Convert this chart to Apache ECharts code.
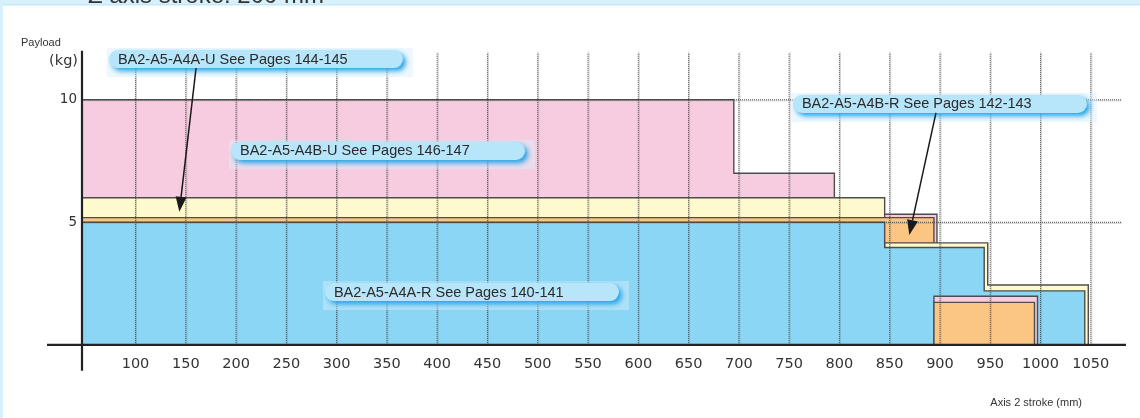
<!DOCTYPE html>
<html>
<head>
<meta charset="utf-8">
<script src="https://cdn.jsdelivr.net/npm/echarts@6/dist/echarts.min.js"></script>
<style>
  html, body { margin: 0; padding: 0; background: #fff; }
  #chart { width: 1140px; height: 418px; }
</style>
</head>
<body>
<div id="chart"></div>
<script>
// Payload envelopes, one step per entry: [stroke from (mm), stroke to (mm), payload (kg)]
const a4bU = [[46.8, 695, 10], [695, 795, 7], [795, 897, 5.33], [894, 997, 1.98]];
const a4aU = [[46.8, 845, 6], [845, 947.5, 4.16], [947.5, 1047.5, 2.44]];
const a4bR = [[46.8, 894, 5.19], [894, 994, 1.73]];
const a4aR = [[46.8, 845, 5], [845, 944, 3.97], [944, 1044, 2.2]];

// Axis ticks
const strokeTicks = [100, 150, 200, 250, 300, 350, 400, 450, 500, 550, 600, 650, 700, 750, 800, 850, 900, 950, 1000, 1050];
const payloadTicks = [5, 10];

// Callout boxes: anchor [stroke, payload] of the top-left corner, and text
const calloutAnchors = [[73.6, 12.03], [753.8, 10.2], [195, 8.28], [288.4, 2.52]];
const calloutTexts = [
  'BA2-A5-A4A-U See Pages 144-145',
  'BA2-A5-A4B-R See Pages 142-143',
  'BA2-A5-A4B-U See Pages 146-147',
  'BA2-A5-A4A-R See Pages 140-141'
];
// Pointer arrows: [from stroke, from payload, to stroke, to payload]
const arrows = [[160.2, 11.29, 143.6, 5.43], [896, 9.47, 869.5, 4.48]];

const X_MIN = 46.8, X_MAX = 1085, Y_MAX = 12;
const PINK = '#f8cce0', YELLOW = '#fffacd', ORANGE = '#fbc684', BLUE = '#8bd6f5';
const EDGE = '#4d4d4d';

// Layer order of the step areas (later pieces paint over earlier ones)
const pieces = [
  { steps: a4bU.slice(0, 3), color: PINK },
  { steps: a4aU.slice(0, 1), color: YELLOW },
  { steps: a4bR.slice(0, 1), color: ORANGE },
  { steps: a4aU.slice(1, 3), color: YELLOW },
  { steps: a4aR, color: BLUE },
  { steps: a4bU.slice(3, 4), color: PINK },
  { steps: a4bR.slice(1, 2), color: ORANGE }
];

function areaSeries(piece, idx) {
  return {
    type: 'custom',
    name: 'area' + idx,
    z: 2,
    silent: true,
    data: piece.steps,
    renderItem: function (params, api) {
      if (params.dataIndex !== 0) return null;
      const s = piece.steps;
      const pts = [api.coord([s[0][0], 0])];
      s.forEach(function (seg) {
        pts.push(api.coord([seg[0], seg[2]]));
        pts.push(api.coord([seg[1], seg[2]]));
      });
      pts.push(api.coord([s[s.length - 1][1], 0]));
      return {
        type: 'polygon',
        shape: { points: pts },
        style: { fill: piece.color, stroke: EDGE, lineWidth: 1.4, lineJoin: 'miter' }
      };
    }
  };
}

const series = pieces.map(areaSeries);

// Dotted grid lines painted above the areas
series.push({
  type: 'custom',
  name: 'vgrid',
  z: 3,
  silent: true,
  data: strokeTicks.map(function (v) { return [v, 0]; }),
  renderItem: function (params, api) {
    const v = api.value(0);
    const p0 = api.coord([v, 0]);
    const p1 = api.coord([v, 11.93]);
    return {
      type: 'group',
      children: [
        { type: 'line', shape: { x1: p0[0] + 1, y1: p0[1], x2: p1[0] + 1, y2: p1[1] },
          style: { stroke: 'rgba(120,120,120,0.35)', lineWidth: 1 } },
        { type: 'line', shape: { x1: p0[0], y1: p0[1], x2: p1[0], y2: p1[1] },
          style: { stroke: '#444', lineWidth: 1, lineDash: [1, 1] } }
      ]
    };
  }
});
series.push({
  type: 'custom',
  name: 'hgrid',
  z: 3,
  silent: true,
  data: payloadTicks.map(function (v) { return [X_MIN, v]; }),
  renderItem: function (params, api) {
    const v = api.value(1);
    const p0 = api.coord([X_MIN, v]);
    const p1 = api.coord([1081, v]);
    return {
      type: 'group',
      children: [
        { type: 'line', shape: { x1: p0[0], y1: p0[1] + 1, x2: p1[0], y2: p1[1] + 1 },
          style: { stroke: 'rgba(120,120,120,0.35)', lineWidth: 1 } },
        { type: 'line', shape: { x1: p0[0], y1: p0[1], x2: p1[0], y2: p1[1] },
          style: { stroke: '#444', lineWidth: 1, lineDash: [1, 1] } }
      ]
    };
  }
});

// Heavy axis lines crossing at the origin with small overhangs
series.push({
  type: 'custom',
  name: 'axes',
  z: 4,
  silent: true,
  data: [[X_MIN, 0]],
  renderItem: function (params, api) {
    const o = api.coord([X_MIN, 0]);
    const xe = api.coord([X_MAX, 0]);
    const yt = api.coord([X_MIN, Y_MAX]);
    return {
      type: 'group',
      children: [
        { type: 'line', shape: { x1: o[0] - 35, y1: o[1], x2: xe[0], y2: o[1] },
          style: { stroke: '#222', lineWidth: 2.2 } },
        { type: 'line', shape: { x1: o[0], y1: yt[1], x2: o[0], y2: o[1] + 26 },
          style: { stroke: '#222', lineWidth: 2.2 } }
      ]
    };
  }
});

// Callout pills
series.push({
  type: 'custom',
  name: 'callouts',
  z: 5,
  silent: true,
  data: calloutAnchors,
  renderItem: function (params, api) {
    const p = api.coord([api.value(0), api.value(1)]);
    const w = 294, h = 18;
    return {
      type: 'group',
      children: [
        { type: 'rect', shape: { x: p[0] - 2, y: p[1] - 2, width: w + 12, height: h + 11 },
          style: { fill: 'rgba(215,240,252,0.45)' } },
        { type: 'rect', shape: { x: p[0], y: p[1], width: w, height: h, r: 9 },
          style: { fill: '#b7e5f9', shadowColor: 'rgba(25,160,230,0.95)', shadowBlur: 5,
                   shadowOffsetX: 3, shadowOffsetY: 3 } },
        { type: 'text',
          style: { text: calloutTexts[params.dataIndex], x: p[0] + 9, y: p[1] + h / 2 + 0.5,
                   fill: '#2b2b2b', font: '14.5px "Liberation Sans", Arial, sans-serif',
                   align: 'left', verticalAlign: 'middle' } }
      ]
    };
  }
});

// Arrows pointing from callouts to their areas
series.push({
  type: 'custom',
  name: 'arrows',
  z: 6,
  silent: true,
  data: arrows,
  renderItem: function (params, api) {
    const a = api.coord([api.value(0), api.value(1)]);
    const b = api.coord([api.value(2), api.value(3)]);
    const dx = b[0] - a[0], dy = b[1] - a[1];
    const len = Math.sqrt(dx * dx + dy * dy);
    const ux = dx / len, uy = dy / len;
    const headL = 15, headW = 5.5;
    const bx = b[0] - ux * headL, by = b[1] - uy * headL;
    return {
      type: 'group',
      children: [
        { type: 'line', shape: { x1: a[0], y1: a[1], x2: bx, y2: by },
          style: { stroke: '#1a1a1a', lineWidth: 1.5 } },
        { type: 'polygon',
          shape: { points: [[b[0], b[1]], [bx - uy * headW, by + ux * headW], [bx + uy * headW, by - ux * headW]] },
          style: { fill: '#1a1a1a' } }
      ]
    };
  }
});

const chart = echarts.init(document.getElementById('chart'), null, { renderer: 'canvas' });
chart.setOption({
  animation: false,
  backgroundColor: '#ffffff',
  grid: { left: 82, right: 14, top: 50.8, bottom: 73.2 },
  xAxis: {
    type: 'value',
    min: X_MIN,
    max: X_MAX,
    axisLine: { show: false },
    axisTick: { show: false },
    splitLine: { show: false },
    axisLabel: {
      customValues: strokeTicks,
      formatter: function (v) { return String(v); },
      color: '#333',
      fontSize: 14.5,
      fontFamily: '"DejaVu Sans", sans-serif',
      margin: 12
    }
  },
  yAxis: {
    type: 'value',
    min: 0,
    max: Y_MAX,
    axisLine: { show: false },
    axisTick: { show: false },
    splitLine: { show: false },
    axisLabel: {
      customValues: payloadTicks,
      formatter: function (v) { return String(v); },
      color: '#333',
      fontSize: 13.5,
      fontFamily: '"DejaVu Sans", sans-serif',
      margin: 5
    }
  },
  graphic: [
    { type: 'rect', left: 0, top: 0, shape: { width: 1140, height: 5 }, style: { fill: '#d8f0fb' }, z: 10 },
    { type: 'rect', left: 0, top: 4, shape: { width: 1140, height: 1.5 }, style: { fill: '#c3e8f8' }, z: 10 },
    { type: 'rect', left: 0, top: 0, shape: { width: 3, height: 418 }, style: { fill: '#d8f0fb' }, z: 10 },
    { type: 'text', x: 88, y: 8, z: 11,
      style: { text: 'Z axis stroke: 200 mm', fill: '#333', font: '24px "Liberation Sans", Arial, sans-serif',
               verticalAlign: 'bottom' } },
    { type: 'text', x: 21, y: 43,
      style: { text: 'Payload', fill: '#333', font: '11px "Liberation Sans", Arial, sans-serif',
               verticalAlign: 'middle' } },
    { type: 'text', x: 78, y: 61,
      style: { text: '(kg)', fill: '#333', font: '14.5px "DejaVu Sans", sans-serif',
               align: 'right', verticalAlign: 'middle' } },
    { type: 'text', x: 1082, y: 403,
      style: { text: 'Axis 2 stroke (mm)', fill: '#333', font: '11px "Liberation Sans", Arial, sans-serif',
               align: 'right', verticalAlign: 'middle' } }
  ],
  series: series
});
</script>
</body>
</html>
